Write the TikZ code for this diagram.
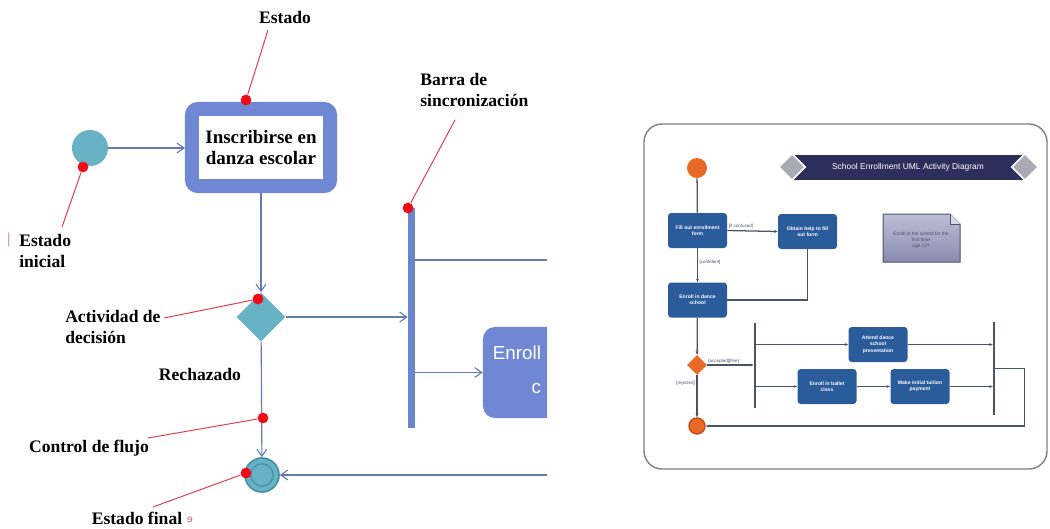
\documentclass[tikz,border=0pt]{standalone}
\usepackage{fontspec}
\setmainfont{Liberation Serif}
\newfontfamily\sansfam{Liberation Sans}
\newfontfamily\dejavufam{DejaVu Sans}
\usepackage{tikz}
\usetikzlibrary{positioning}
\usetikzlibrary{shapes.geometric,arrows.meta}
\definecolor{stateblue}{RGB}{112,136,212}
\definecolor{flowteal}{RGB}{104,178,198}
\definecolor{finteal}{RGB}{72,146,168}
\definecolor{flowline}{RGB}{100,122,178}
\definecolor{barblue}{RGB}{108,132,204}
\definecolor{guidered}{RGB}{222,62,80}
\definecolor{dotred}{RGB}{240,12,22}
\definecolor{markpink}{RGB}{205,95,120}
\definecolor{umlbox}{RGB}{42,92,155}
\definecolor{umlorange}{RGB}{232,105,40}
\definecolor{umlorangedark}{RGB}{196,78,26}
\definecolor{umlline}{RGB}{74,84,104}
\definecolor{umlnavy}{RGB}{44,46,92}
\definecolor{umlgray}{RGB}{170,170,180}
\definecolor{notelight}{RGB}{188,190,214}
\definecolor{notedark}{RGB}{138,140,176}
\tikzstyle{line} = [draw, flowline, line width=0.8pt, -{Straight Barb[length=5pt,width=7pt]}]
\tikzstyle{line1} = [draw, flowline, line width=0.8pt]
\tikzstyle{redline} = [draw, guidered, line width=0.7pt]
\tikzstyle{reddot} = [circle, fill=dotred, inner sep=0pt, minimum size=0.27cm]
\tikzstyle{tag} = [font=\fontsize{12.5}{15.5}\selectfont\bfseries, text=black, inner sep=0pt]
\tikzstyle{initial} = [circle, fill=flowteal, inner sep=0pt, minimum size=0.9cm]
\tikzstyle{state} = [draw=stateblue, line width=0.35cm, fill=white, rounded corners=0.15cm, minimum width=3.45cm, minimum height=1.925cm, align=center, font=\fontsize{13.5}{15.6}\selectfont\bfseries]
\tikzstyle{decision} = [diamond, fill=flowteal, inner sep=0pt, minimum width=1.225cm, minimum height=1.225cm]
\tikzstyle{syncbar} = [rectangle, fill=barblue, inner sep=0pt, minimum width=0.175cm, minimum height=5.5cm]
\tikzstyle{activity} = [rectangle, fill=stateblue, rounded corners=0.3cm, minimum width=3.85cm, minimum height=2.275cm]
\tikzstyle{final} = [circle, fill=flowteal, draw=finteal, line width=1.2pt, inner sep=0pt, minimum size=0.85cm, path picture={\draw[finteal, line width=0.9pt] (path picture bounding box.center) circle (0.28cm);}]
\tikzstyle{frame} = [draw=gray, line width=1pt, rounded corners=0.45cm]
\tikzstyle{umlstep} = [rectangle, fill=umlbox, rounded corners=0.08cm, minimum width=1.475cm, minimum height=0.875cm, inner sep=1pt, align=center, text=white, font=\sansfam\bfseries\fontsize{3.6}{4.4}\selectfont]
\tikzstyle{umlstart} = [circle, fill=umlorange, inner sep=0pt, minimum size=0.5cm]
\tikzstyle{umlend} = [circle, fill=umlorange, draw=umlorangedark, line width=1pt, inner sep=0pt, minimum size=0.4cm]
\tikzstyle{umlchoice} = [diamond, fill=umlorange, inner sep=0pt, minimum width=0.5cm, minimum height=0.5cm]
\tikzstyle{umlbar} = [rectangle, fill=umlline, inner sep=0pt, minimum width=0.05cm]
\tikzstyle{line2} = [draw, umlline, line width=0.9pt, -{Stealth[length=2.5pt,width=2pt]}]
\tikzstyle{line3} = [draw, umlline, line width=0.9pt]
\tikzstyle{guard} = [text=umlline, inner sep=1pt, font=\sansfam\fontsize{3.2}{3.8}\selectfont]

\begin{document}
\begin{tikzpicture}[x=0.025cm, y=-0.025cm]
	\useasboundingbox (0,0) rectangle (1050,528);

	\node[initial] (ini) at (90,148) {};
	\node[state] (inscr) at (261,147.5) {Inscribirse en\\danza escolar};
	\node[decision] (dec) at (261,317) {};
	\node[syncbar] (bar) at (411.5,318) {};
	\begin{scope}
		\clip (420,200) rectangle (547,440);
		\node[activity] (enroll) at (560,372.5) {};
	\end{scope}
	\node[anchor=east, align=right, text=white, font=\sansfam\fontsize{13.4}{24}\selectfont] (enrolltxt) at (546,370) {Enroll\\c};
	\node[final] (fin) at (262,475) {};
	\coordinate (cut1) at (547,260);
	\coordinate (cut2) at (547,475);

	\path [line] (ini) -- (ini -| inscr.west);
	\path [line] (inscr) -- (dec);
	\path [line] (dec) -- (dec -| bar.west);
	\path [line1] (bar.east |- cut1) -- (cut1);
	\path [line] (bar.east |- enroll.west) -- (enroll.west);
	\path [line] (dec) -- (fin);
	\path [line] (cut2) -- (fin);

	\node[tag] (tEstado) at (285,17) {Estado};
	\node[tag, anchor=west, align=left] (tIni) at (19,251) {Estado\\inicial};
	\node[text=markpink, font=\fontsize{11}{12}\selectfont, inner sep=0pt] (mark1) at (9,240) {|};
	\node[tag, anchor=west, align=left] (tBarra) at (420,90) {Barra de\\sincronización};
	\node[tag, anchor=west, align=left] (tDec) at (65,327) {Actividad de\\decisión};
	\node[tag] (tRech) at (200,374) {Rechazado};
	\node[tag] (tFlujo) at (89,448) {Control de flujo};
	\node[tag] (tFin) at (137,518) {Estado final};
	\node[text=markpink, font=\dejavufam\fontsize{7}{8}\selectfont, inner sep=0pt] (mark2) at (190,520) {ɘ};

	\node[reddot] (pEstado) at (246,100) {};
	\node[reddot] (pIni) at (83,167) {};
	\node[reddot] (pBarra) at (408,208) {};
	\node[reddot] (pDec) at (258,299) {};
	\node[reddot] (pFlujo) at (263,418) {};
	\node[reddot] (pFin) at (246,473) {};
	\coordinate (aEstado) at (268,30);
	\coordinate (aIni) at (62,227);
	\coordinate (aBarra) at (455,120);
	\coordinate (aDec) at (164,318);
	\coordinate (aFlujo) at (148,438);
	\coordinate (aFin) at (153,507);
	\path [redline] (aEstado) -- (pEstado);
	\path [redline] (aIni) -- (pIni);
	\path [redline] (aBarra) -- (pBarra);
	\path [redline] (aDec) -- (pDec);
	\path [redline] (aFlujo) -- (pFlujo);
	\path [redline] (aFin) -- (pFin);

	\draw[frame] (644,124) rectangle (1047,469);
	\node[fill=umlnavy, minimum width=5.8cm, minimum height=0.625cm, inner sep=0pt, text=white, font=\sansfam\fontsize{6}{7}\selectfont] (title) at (908,167.5) {School Enrollment UML Activity Diagram};
	\node[diamond, fill=umlgray, draw=white, line width=1.2pt, inner sep=0pt, minimum size=0.68cm] (gem1) at (792,167) {};
	\node[diamond, fill=umlgray, draw=white, line width=1.2pt, inner sep=0pt, minimum size=0.68cm] (gem2) at (1025,167) {};
	\shade[top color=notelight, bottom color=notedark, draw=umlline, line width=0.7pt] (883,214) -- (950,214) -- (960,224) -- (960,262) -- (883,262) -- cycle;
	\draw[umlline, line width=0.5pt, fill=notelight!60] (950,214) -- (950,224) -- (960,224);
	\node[align=center, text=umlline, inner sep=0pt, font=\sansfam\fontsize{3.4}{4.4}\selectfont] (note) at (921,240) {Enroll in the school for the\\first time\\age 12?};

	\node[umlstart] (ini2) at (697,168) {};
	\node[umlstep] (fill) at (697.5,230.5) {Fill out enrollment\\form};
	\node[umlstep] (help) at (807.5,231.5) {Obtain help to fill\\out form};
	\node[umlstep] (school) at (697.5,300) {Enroll in dance\\school};
	\node[umlchoice] (dec2) at (697,365) {};
	\node[umlbar, minimum height=2.125cm] (fork) at (755,365.5) {};
	\node[umlstep] (attend) at (878,344.5) {Attend dance\\school\\presentation};
	\node[umlstep] (ballet) at (827,386.5) {Enroll in ballet\\class};
	\node[umlstep] (tuition) at (920,386.5) {Make initial tuition\\payment};
	\node[umlbar, minimum height=2.325cm] (join) at (994,368.5) {};
	\node[umlend] (fin2) at (697,426) {};

	\path [line3] (ini2) -- (fill);
	\path [line2] (fill.east) -- node[guard, above, pos=0.27] {[if confused]} (help.west);
	\path [line2] (fill) -- node[guard, right, pos=0.4] {[confident]} (school);
	\path [line3] (help.south) |- (school.east);
	\path [line2] (school) -- (dec2);
	\path [line2] (dec2) -- node[guard, above, pos=0.35] {[accepted][fine]} (dec2 -| fork.west);
	\path [line2] (fork.east |- attend.west) -- (attend.west);
	\path [line2] (attend.east) -- (attend.east -| join.west);
	\path [line2] (fork.east |- ballet.west) -- (ballet.west);
	\path [line2] (ballet) -- (tuition);
	\path [line2] (tuition.east) -- (tuition.east -| join.west);
	\path [line2] (join.east) -- ++(29,0) |- (fin2.east);
	\path [line2] (dec2) -- node[guard, left, pos=0.2] {[rejected]} (fin2);
\end{tikzpicture}
\end{document}
